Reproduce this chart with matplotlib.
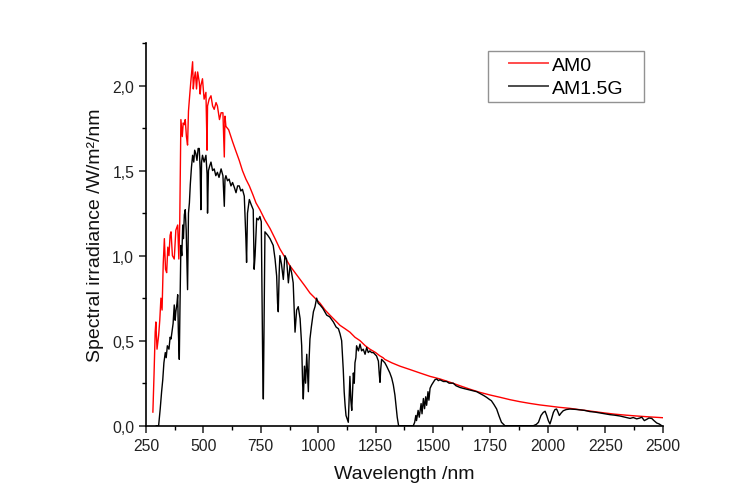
import matplotlib
matplotlib.use("Agg")
import numpy as np
import matplotlib.pyplot as plt
from matplotlib.ticker import MultipleLocator, FuncFormatter
from matplotlib.legend_handler import HandlerLine2D

am0_wl = [280, 285, 290, 293, 298, 305, 310, 315, 320, 325, 330, 335, 340, 345, 350, 355, 359, 365,
          373, 380, 388, 393, 397, 402, 408, 412, 417, 421, 426, 431, 435, 439, 445, 453, 456, 460,
          465, 470, 475, 482, 486, 489, 496, 503, 511, 516, 518, 525, 533, 540, 547, 555, 561, 570,
          577, 585, 591, 594, 598, 610, 627, 640, 656, 670, 685, 700, 715, 729, 746, 768, 790, 812,
          833, 855, 877, 899, 921, 943, 964, 986, 1008, 1030, 1051, 1073, 1095, 1117, 1138, 1160,
          1182, 1205, 1225, 1250, 1269, 1282, 1290, 1320, 1356, 1400, 1443, 1487, 1530, 1575, 1617,
          1660, 1704, 1750, 1792, 1835, 1879, 1922, 1966, 2009, 2050, 2096, 2140, 2190, 2241, 2290,
          2340, 2387, 2440, 2500]
am0_val = [0.08, 0.30, 0.55, 0.61, 0.45, 0.53, 0.62, 0.75, 0.68, 0.95, 1.10, 0.92, 0.90, 1.05, 1.00,
           1.12, 1.14, 1.00, 0.98, 1.15, 1.18, 0.98, 1.20, 1.80, 1.70, 1.78, 1.77, 1.80, 1.70, 1.65,
           1.85, 1.92, 2.02, 2.14, 1.98, 2.04, 2.08, 1.98, 2.08, 2.02, 1.95, 2.00, 2.04, 1.92, 1.96,
           1.62, 1.88, 1.92, 1.94, 1.88, 1.86, 1.90, 1.88, 1.80, 1.84, 1.84, 1.58, 1.82, 1.76, 1.74,
           1.67, 1.62, 1.56, 1.50, 1.45, 1.41, 1.36, 1.31, 1.27, 1.21, 1.16, 1.10, 1.04, 0.99, 0.94,
           0.90, 0.86, 0.82, 0.78, 0.75, 0.72, 0.68, 0.65, 0.62, 0.59, 0.57, 0.55, 0.52, 0.50, 0.47,
           0.45, 0.43, 0.41, 0.40, 0.39, 0.37, 0.35, 0.33, 0.31, 0.29, 0.275, 0.255, 0.235, 0.215,
           0.196, 0.18, 0.167, 0.153, 0.141, 0.131, 0.122, 0.115, 0.108, 0.102, 0.094, 0.085, 0.076,
           0.068, 0.062, 0.057, 0.052, 0.047]

am15_wl = [295, 305, 312, 318, 323, 328, 334, 338, 343, 350, 355, 359, 364, 368, 373, 377, 380, 385,
           388, 391, 395, 398, 402, 406, 410, 413, 417, 421, 425, 431, 435, 439, 443, 448, 453, 458,
           462, 467, 472, 477, 482, 486, 489, 492, 496, 503, 511, 516, 518, 522, 528, 533, 540, 547,
           554, 561, 568, 577, 585, 591, 594, 598, 605, 612, 620, 627, 635, 642, 649, 656, 663, 670,
           678, 685, 688, 692, 700, 708, 717, 721, 725, 732, 739, 746, 752, 758, 761, 764, 768, 780,
           790, 797, 804, 812, 819, 823, 826, 830, 833, 840, 848, 855, 862, 870, 877, 884, 891, 895,
           899, 906, 913, 921, 928, 932, 935, 940, 945, 950, 957, 960, 964, 970, 979, 986, 993, 1000,
           1008, 1020, 1037, 1050, 1066, 1078, 1088, 1095, 1102, 1109, 1113, 1117, 1121, 1126, 1131,
           1135, 1138, 1142, 1146, 1150, 1153, 1157, 1160, 1164, 1167, 1175, 1182, 1189, 1196, 1204,
           1211, 1218, 1225, 1232, 1240, 1247, 1254, 1262, 1266, 1269, 1272, 1276, 1283, 1290, 1298,
           1305, 1312, 1320, 1327, 1334, 1340, 1344, 1350, 1414, 1420, 1425, 1428, 1435, 1440, 1443,
           1448, 1452, 1458, 1463, 1468, 1472, 1478, 1482, 1487, 1494, 1501, 1508, 1516, 1523, 1530,
           1545, 1559, 1570, 1588, 1600, 1617, 1630, 1646, 1660, 1675, 1690, 1704, 1720, 1733, 1745,
           1754, 1765, 1777, 1788, 1798, 1813, 1937, 1950, 1959, 1970, 1980, 1988, 1995, 2002, 2009,
           2016, 2024, 2031, 2038, 2044, 2050, 2058, 2067, 2080, 2096, 2120, 2140, 2160, 2183, 2205,
           2227, 2250, 2270, 2290, 2314, 2335, 2358, 2372, 2387, 2400, 2409, 2420, 2430, 2440, 2452,
           2462, 2474, 2485, 2496]
am15_val = [0.0, 0.0, 0.10, 0.20, 0.27, 0.37, 0.43, 0.40, 0.47, 0.45, 0.52, 0.51, 0.56, 0.60, 0.71,
            0.62, 0.67, 0.72, 0.77, 0.55, 0.39, 0.70, 1.06, 1.00, 1.18, 1.10, 1.24, 1.27, 1.15, 0.80,
            1.25, 1.31, 1.42, 1.52, 1.59, 1.55, 1.62, 1.60, 1.56, 1.63, 1.63, 1.50, 1.27, 1.55, 1.59,
            1.55, 1.59, 1.48, 1.25, 1.50, 1.53, 1.55, 1.50, 1.51, 1.47, 1.49, 1.46, 1.51, 1.47, 1.29,
            1.45, 1.47, 1.44, 1.45, 1.41, 1.43, 1.40, 1.37, 1.41, 1.41, 1.38, 1.39, 1.35, 1.10, 0.96,
            1.25, 1.33, 1.30, 1.27, 0.92, 1.00, 1.22, 1.21, 1.23, 1.20, 0.40, 0.157, 0.60, 1.14, 1.12,
            1.10, 1.08, 1.06, 0.98, 0.88, 0.72, 0.67, 0.90, 1.00, 0.95, 0.86, 1.00, 0.98, 0.84, 0.94,
            0.90, 0.84, 0.70, 0.55, 0.68, 0.70, 0.63, 0.47, 0.25, 0.157, 0.35, 0.25, 0.42, 0.20, 0.38,
            0.51, 0.58, 0.67, 0.70, 0.75, 0.72, 0.71, 0.69, 0.65, 0.64, 0.61, 0.58, 0.57, 0.54, 0.50,
            0.33, 0.20, 0.12, 0.06, 0.04, 0.02, 0.18, 0.29, 0.15, 0.09, 0.22, 0.31, 0.25, 0.37, 0.40,
            0.47, 0.44, 0.48, 0.44, 0.45, 0.42, 0.46, 0.43, 0.44, 0.43, 0.43, 0.42, 0.41, 0.38, 0.30,
            0.255, 0.33, 0.39, 0.38, 0.37, 0.35, 0.33, 0.31, 0.28, 0.24, 0.18, 0.10, 0.05, 0.0, 0.0,
            0.02, 0.06, 0.03, 0.09, 0.05, 0.08, 0.13, 0.07, 0.16, 0.10, 0.17, 0.12, 0.20, 0.15, 0.22,
            0.24, 0.255, 0.27, 0.275, 0.265, 0.27, 0.26, 0.26, 0.25, 0.25, 0.235, 0.225, 0.22, 0.215,
            0.21, 0.205, 0.20, 0.19, 0.178, 0.167, 0.155, 0.147, 0.125, 0.098, 0.055, 0.02, 0.0, 0.0,
            0.008, 0.02, 0.06, 0.078, 0.085, 0.06, 0.03, 0.01, 0.04, 0.078, 0.095, 0.098, 0.08, 0.06,
            0.075, 0.088, 0.095, 0.098, 0.096, 0.093, 0.09, 0.083, 0.08, 0.075, 0.07, 0.065, 0.062,
            0.057, 0.05, 0.043, 0.048, 0.04, 0.045, 0.05, 0.03, 0.037, 0.045, 0.043, 0.03, 0.016,
            0.01, 0.0]

x_label = "Wavelength /nm"
y_label = "Spectral irradiance /W/m\u00b2/nm"
series_names = ["AM0", "AM1.5G"]

plt.rcParams['font.family'] = ['Liberation Sans', 'DejaVu Sans']

fig = plt.figure(figsize=(7.51, 4.85), dpi=100)
ax = fig.add_axes([0.1944, 0.1202, 0.688, 0.789])

ax.plot(am0_wl, am0_val, color='#ff0000', lw=1.0, label=series_names[0], zorder=2)
ax.plot(am15_wl, am15_val, color='black', lw=1.0, label=series_names[1], zorder=3)

ax.set_xlim(250, 2500)
ax.set_ylim(0, 2.25)
ax.spines['top'].set_visible(False)
ax.spines['right'].set_visible(False)
for s in ('left', 'bottom'):
    ax.spines[s].set_linewidth(1.2)

ax.xaxis.set_major_locator(MultipleLocator(250))
ax.xaxis.set_minor_locator(MultipleLocator(125))
ax.yaxis.set_major_locator(MultipleLocator(0.5))
ax.yaxis.set_minor_locator(MultipleLocator(0.25))
ax.yaxis.set_major_formatter(FuncFormatter(lambda v, p: f"{v:.1f}".replace('.', ',')))
ax.tick_params(which='major', direction='out', length=5, width=1.1, labelsize=11.3, colors='#222222')
ax.tick_params(which='minor', direction='out', length=3, width=1.0)

ax.set_xlabel(x_label, fontsize=14, labelpad=9, color='#111111')
ax.set_ylabel(y_label, fontsize=14, labelpad=6, color='#111111')


class ShiftedLine(HandlerLine2D):
    """Line handle drawn with an extra left offset inside the handle box."""
    def __init__(self, shift, **kw):
        super().__init__(**kw)
        self.shift = shift

    def create_artists(self, legend, orig_handle, xdescent, ydescent, width, height, fontsize, trans):
        arts = super().create_artists(legend, orig_handle, xdescent, ydescent, width, height, fontsize, trans)
        for a in arts:
            xd = np.asarray(a.get_xdata(), dtype=float)
            if xd.size >= 2:
                a.set_xdata(np.linspace(xd[0] + self.shift, xd[-1], xd.size))
        return arts


fs = 14
fs_px = fs * 100 / 72.0
shift_px = 11.5
lines = ax.get_lines()
W, H = 751.0, 485.0
leg = ax.legend(loc='upper left',
                bbox_to_anchor=(487.7 / W, 1 - 102.3 / H, 156.6 / W, 50.0 / H),
                bbox_transform=fig.transFigure, mode='expand',
                borderaxespad=0, frameon=True, fancybox=False, fontsize=fs,
                handlelength=(44 + shift_px) / fs_px, handletextpad=0.22,
                borderpad=0.25, labelspacing=0.3,
                handler_map={l: ShiftedLine(shift_px) for l in lines})
leg.get_frame().set_edgecolor('#777777')
leg.get_frame().set_linewidth(1.0)
for line in leg.get_lines():
    line.set_linewidth(1.4)
    line.set_alpha(0.7)

fig.savefig("out.png", dpi=100)
